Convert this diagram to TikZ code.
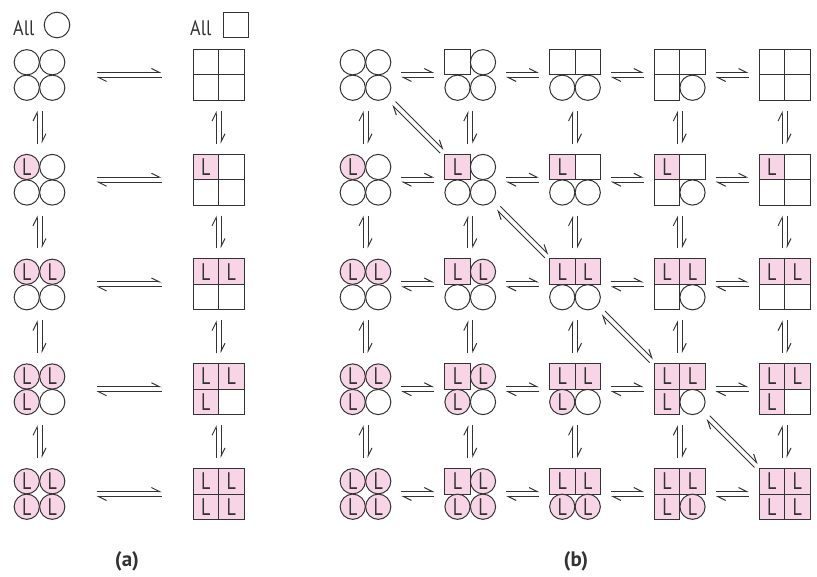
\documentclass[tikz,border=0pt]{standalone}
\usepackage{fontspec}
\setmainfont{PT Sans}
\usetikzlibrary{arrows.meta,calc}
\definecolor{lpink}{HTML}{F8D5E6}
\definecolor{ink}{HTML}{333333}
\tikzset{
  grp/.style={minimum width=51pt, minimum height=51pt, inner sep=0pt, outer sep=0pt},
  cellsq/.style={draw=ink, line width=1pt},
  cellci/.style={draw=ink, line width=1pt},
  harp/.style={draw=ink, line width=1pt, -{Straight Barb[left,length=8pt,width=8pt]}},
  ltext/.style={font=\fontsize{24}{24}\selectfont, text=ink, inner sep=0pt},
  alltext/.style={font=\fontsize{21}{21}\selectfont, text=ink, inner sep=0pt, anchor=base west},
  sublabel/.style={font=\bfseries\fontsize{21}{21}\selectfont, text=ink, inner sep=0pt},
}
\newcommand\eqpair[3]{%
  \draw[harp, shorten <=#3, shorten >=#3] ($(#1)!2.5pt!90:(#2)$) -- ($(#2)!2.5pt!-90:(#1)$);
  \draw[harp, shorten <=#3, shorten >=#3] ($(#2)!2.5pt!90:(#1)$) -- ($(#1)!2.5pt!-90:(#2)$);
}
\newcommand\Lmark{\scalebox{0.75}[1]{L}}
\begin{document}
\begin{tikzpicture}[x=1pt,y=1pt]
\useasboundingbox (0,0) rectangle (817,-577);
\fill[white] (0,0) rectangle (817,-577);

% ---------- headers ----------
\node[alltext] (allA) at (13,-35.2) {\scalebox{0.86}[1]{All}};
\node[draw=ink, line width=1pt, circle, minimum size=25.6pt, inner sep=0pt] (allC) at (57,-25) {};
\node[alltext] (allB) at (190,-35.2) {\scalebox{0.86}[1]{All}};
\node[draw=ink, line width=1pt, minimum size=25pt, inner sep=0pt] (allS) at (235.5,-25.5) {};

% ---------- panel (a) ----------
\foreach \ri in {0,...,4}{
  \pgfmathsetmacro\Y{-75-104.75*\ri}
  \node[grp] (ac\ri) at (39.5,\Y) {};
  \node[grp] (as\ri) at (218.5,\Y) {};
  \foreach \p/\dx/\dy in {1/-1/1,2/1/1,3/-1/-1,4/1/-1}{
    \ifnum\p>\ri \def\fc{white}\else\def\fc{lpink}\fi
    \draw[cellci, fill=\fc] ($(ac\ri)+(\dx*12.75,\dy*12.75)$) circle[radius=12.6];
    \draw[cellsq, fill=\fc] ($(as\ri)+(\dx*12.75-12.75,\dy*12.75-12.75)$) rectangle ++(25.5,25.5);
    \ifnum\p>\ri\else
      \node[ltext] (aLc\ri\p) at ($(ac\ri)+(\dx*12.75,\dy*12.75)$) {\Lmark};
      \node[ltext] (aLs\ri\p) at ($(as\ri)+(\dx*12.75,\dy*12.75)$) {\Lmark};
    \fi
  }
}

% ---------- panel (b) ----------
\foreach \ri in {0,...,4}{
  \foreach \ci in {0,...,4}{
    \pgfmathsetmacro\X{365.5+104.75*\ci}
    \pgfmathsetmacro\Y{-75-104.75*\ri}
    \node[grp] (b\ri\ci) at (\X,\Y) {};
    \foreach \p/\dx/\dy in {1/-1/1,2/1/1,3/-1/-1,4/1/-1}{
      \ifnum\p>\ri \def\fc{white}\else\def\fc{lpink}\fi
      \ifnum\p>\ci
        \draw[cellci, fill=\fc] ($(b\ri\ci)+(\dx*12.75,\dy*12.75)$) circle[radius=12.6];
      \else
        \draw[cellsq, fill=\fc] ($(b\ri\ci)+(\dx*12.75-12.75,\dy*12.75-12.75)$) rectangle ++(25.5,25.5);
      \fi
      \ifnum\p>\ri\else
        \node[ltext] (bL\ri\ci\p) at ($(b\ri\ci)+(\dx*12.75,\dy*12.75)$) {\Lmark};
      \fi
    }
  }
}

% ---------- equilibria (a) ----------
\foreach \ri in {0,...,4}{
  \eqpair{ac\ri}{as\ri}{57}
}
\foreach \ri in {0,...,3}{
  \pgfmathtruncatemacro\rn{\ri+1}
  \eqpair{ac\ri}{ac\rn}{36}
  \eqpair{as\ri}{as\rn}{36}
}

% ---------- equilibria (b) ----------
\foreach \ri in {0,...,4}{
  \foreach \ci in {0,...,3}{
    \pgfmathtruncatemacro\cn{\ci+1}
    \eqpair{b\ri\ci}{b\ri\cn}{35.8}
  }
}
\foreach \ri in {0,...,3}{
  \pgfmathtruncatemacro\rn{\ri+1}
  \foreach \ci in {0,...,4}{
    \eqpair{b\ri\ci}{b\rn\ci}{36}
  }
}
\eqpair{b00}{b11}{40}
\eqpair{b11}{b22}{40}
\eqpair{b22}{b33}{40}
\eqpair{b33}{b44}{40}

% ---------- sub-labels ----------
\node[sublabel] (labA) at (127,-561) {(a)};
\node[sublabel] (labB) at (576,-561) {(b)};
\end{tikzpicture}
\end{document}
